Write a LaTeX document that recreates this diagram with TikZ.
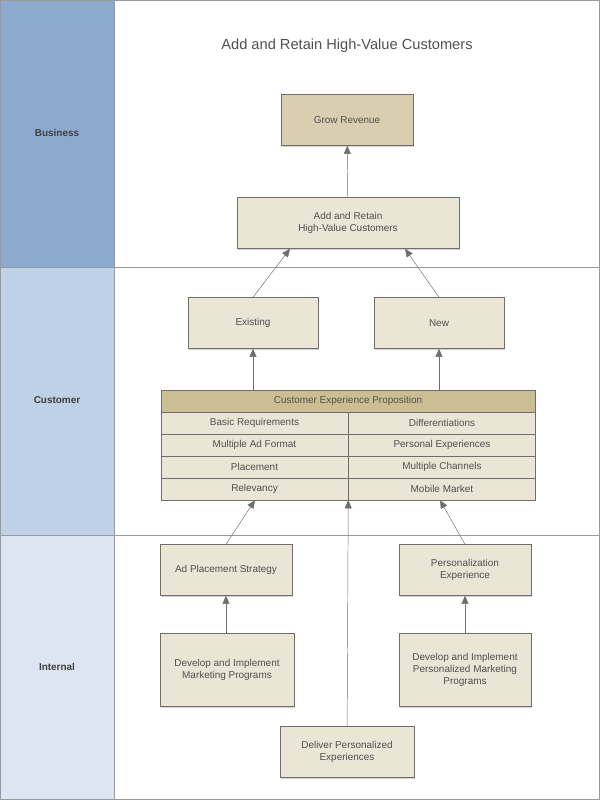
\documentclass[tikz,border=0pt]{standalone}
\usepackage{fontspec}
\setmainfont{Liberation Sans}
\usetikzlibrary{positioning,calc,arrows.meta,shadows}
\definecolor{laneBusiness}{HTML}{8CA9CE}
\definecolor{laneCustomer}{HTML}{BED1E6}
\definecolor{laneInternal}{HTML}{DDE5F1}
\definecolor{boxFill}{HTML}{EBE5D5}
\definecolor{boxTop}{HTML}{D9CEB0}
\definecolor{headFill}{HTML}{CBBE93}
\definecolor{lineGrey}{HTML}{6E6E6E}
\definecolor{textGrey}{HTML}{505050}

\begin{document}
\begin{tikzpicture}[x=0.03cm,y=-0.03cm,
  box/.style={draw=lineGrey,fill=boxFill,text=textGrey,font=\fontsize{8.5}{10}\selectfont,
    align=center,minimum width=132*0.03cm,minimum height=51*0.03cm,inner sep=1pt,
    drop shadow={shadow xshift=1pt,shadow yshift=-1pt,opacity=0.35}},
  cell/.style={draw=lineGrey,fill=boxFill,text=textGrey,font=\fontsize{8.5}{10}\selectfont,
    minimum width=187*0.03cm,minimum height=21.5*0.03cm,inner sep=0pt},
  lane/.style={font=\bfseries\fontsize{8.5}{10}\selectfont,text=textGrey!80!black},
  link/.style={draw=lineGrey,-{Triangle[length=7pt,width=6pt]}}]

  \useasboundingbox (0,0) rectangle (600,800);
  % lanes
  \fill[laneBusiness] (0,0) rectangle (114,267);
  \fill[laneCustomer] (0,267) rectangle (114,535);
  \fill[laneInternal] (0,535) rectangle (114,800);
  \draw[lineGrey!70] (0,267) -- (600,267) (0,535) -- (600,535) (114,0) -- (114,800);
  \draw[lineGrey!70] (0.5,0.5) rectangle (599.5,799.5);
  \node[lane] (business) at (57,133) {Business};
  \node[lane] (customer) at (57,400) {Customer};
  \node[lane] (internal) at (57,667) {Internal};

  \node[text=textGrey,font=\fontsize{12.5}{14}\selectfont] (title) at (347,46) {Add and Retain High-Value Customers};

  \node[box,fill=boxTop] (grow) at (347,120) {Grow Revenue};
  \node[box,minimum width=222*0.03cm] (retain) at (348,223) {Add and Retain\\High-Value Customers};
  \node[box,minimum width=130*0.03cm] (existing) at (253,323) {Existing};
  \node[box,minimum width=130*0.03cm] (new) at (439,323) {New};

  % proposition table
  \node[cell,fill=headFill,minimum width=374*0.03cm,minimum height=22*0.03cm,
    drop shadow={shadow xshift=1pt,shadow yshift=-1pt,opacity=0.35}] (cep) at (348,401) {Customer Experience Proposition};
  \node[cell,anchor=north west] (r1a) at (cep.south west) {Basic Requirements};
  \node[cell,right=0pt of r1a] (r1b) {Differentiations};
  \node[cell,below=0pt of r1a] (r2a) {Multiple Ad Format};
  \node[cell,right=0pt of r2a] (r2b) {Personal Experiences};
  \node[cell,below=0pt of r2a] (r3a) {Placement};
  \node[cell,right=0pt of r3a] (r3b) {Multiple Channels};
  \node[cell,below=0pt of r3a] (r4a) {Relevancy};
  \node[cell,right=0pt of r4a] (r4b) {Mobile Market};

  \node[box] (adplace) at (226,570) {Ad Placement Strategy};
  \node[box] (personal) at (465,570) {Personalization\\Experience};
  \node[box,minimum width=134*0.03cm,minimum height=73*0.03cm] (devleft) at (227,670) {Develop and Implement\\Marketing Programs};
  \node[box,minimum height=73*0.03cm] (devright) at (465,670) {Develop and Implement\\Personalized Marketing\\Programs};
  \node[box,minimum width=134*0.03cm] (deliver) at (347,752) {Deliver Personalized\\Experiences};

  \draw[link] (retain) -- (grow);
  \draw[link] (existing.north) -- (retain.south -| 290,0);
  \draw[link] (new.north) -- (retain.south -| 405,0);
  \draw[link] (cep.north -| existing) -- (existing);
  \draw[link] (cep.north -| new) -- (new);
  \draw[link] (adplace.north) -- (r4a.south -| 255,0);
  \draw[link] (personal.north) -- (r4b.south -| 440,0);
  \draw[link] (deliver) -- (r4a.south east);
  \draw[link] (devleft.north -| adplace) -- (adplace);
  \draw[link] (devright) -- (personal);
\end{tikzpicture}
\end{document}
